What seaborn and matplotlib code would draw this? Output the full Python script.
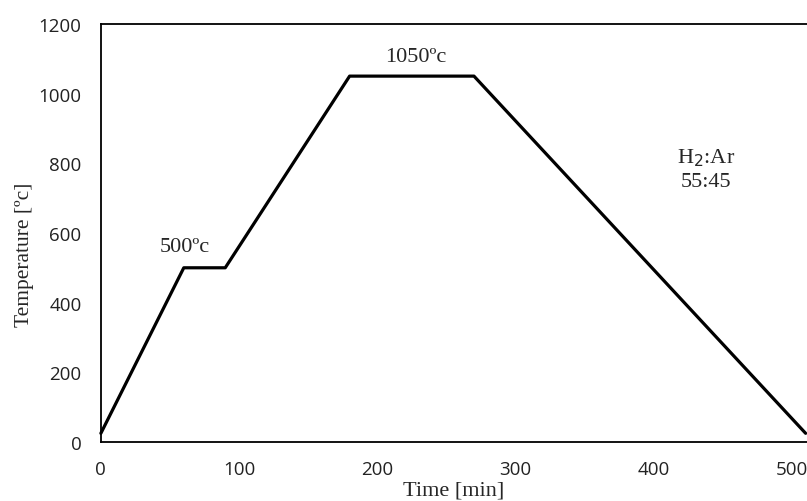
import seaborn as sns
import matplotlib.pyplot as plt
import pandas as pd

time_min = [0, 60, 90, 180, 270, 510]
temp_c = [25, 500, 500, 1050, 1050, 25]
y_ticks = [0, 200, 400, 600, 800, 1000, 1200]
x_ticks = [0, 100, 200, 300, 400, 500]

df = pd.DataFrame({'time': time_min, 'temp': temp_c})

sns.set_style('white')
plt.rcParams['font.family'] = ['Liberation Serif', 'DejaVu Serif']

fig = plt.figure(figsize=(8.07, 5.02), dpi=100)
ax = fig.add_axes([0.125, 0.1175, 0.875, 0.833])

sns.lineplot(data=df, x='time', y='temp', color='black', linewidth=2.3,
             sort=False, ax=ax, clip_on=False)

ax.set_xlim(0, 511)
ax.set_ylim(0, 1200)
ax.set_xticks(x_ticks)
ax.set_yticks(y_ticks)
ax.tick_params(axis='y', length=0, labelsize=13.5, pad=14)
ax.tick_params(axis='x', length=0, labelsize=13.5, pad=13)
for lab in ax.get_xticklabels() + ax.get_yticklabels():
    lab.set_family(['Open Sans', 'DejaVu Sans'])
    lab.set_color('#222222')

for side in ['left', 'bottom', 'top']:
    ax.spines[side].set_color('black')
    ax.spines[side].set_linewidth(1.3)
ax.spines['right'].set_visible(False)

ax.set_xlabel('Time [min]', fontsize=16, labelpad=2)
ax.set_ylabel('Temperature [ºc]', fontsize=15.5, labelpad=6)
ax.yaxis.set_label_coords(-0.095, 0.45)

ax.text(61, 560, '500ºc', ha='center', va='center', fontsize=16)
ax.text(228, 1105, '1050ºc', ha='center', va='center', fontsize=16)
ax.text(438, 784, 'H$_2$:Ar\n55:45', ha='center', va='center', fontsize=16,
        linespacing=1.25)

plt.savefig('out.png', dpi=100)
